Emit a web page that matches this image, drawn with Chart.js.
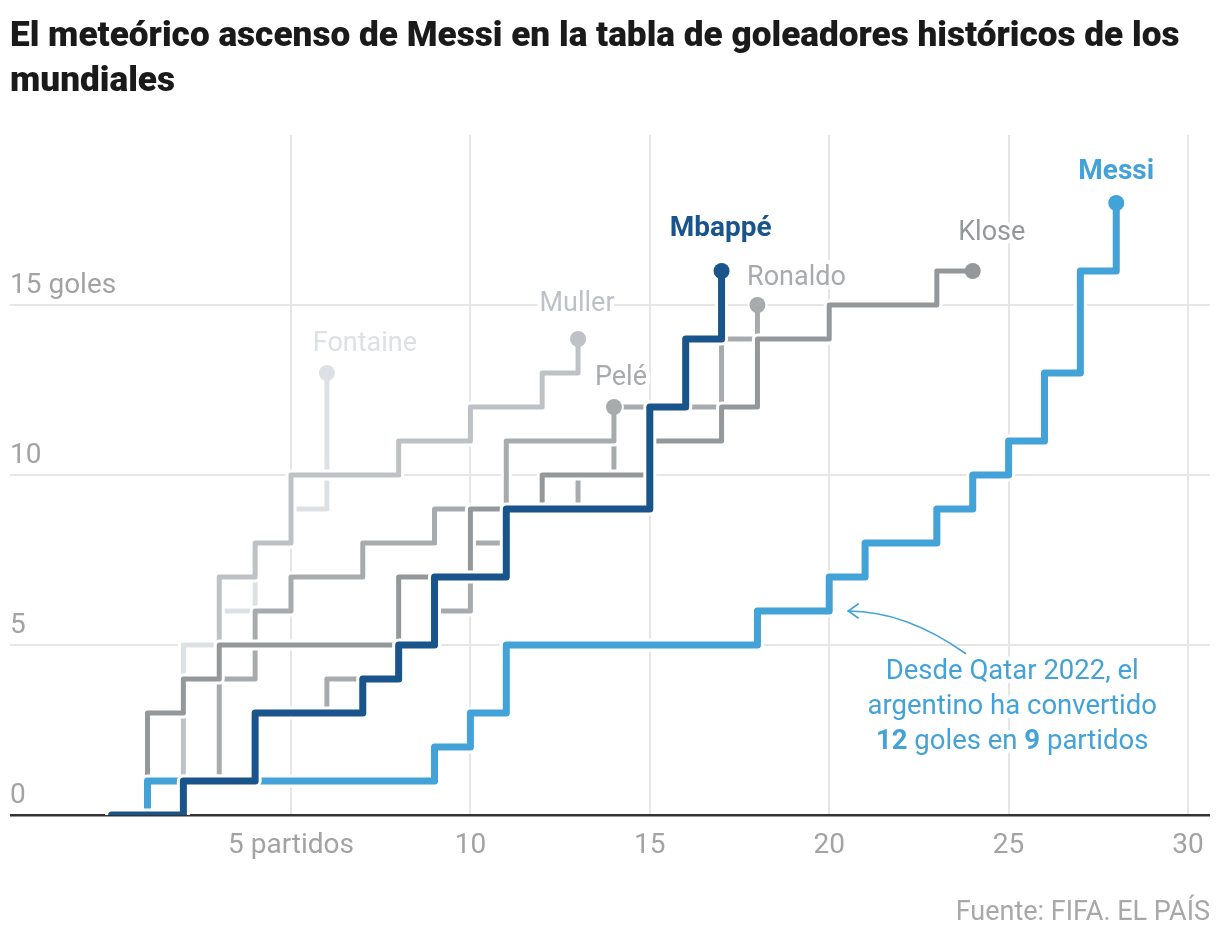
<!DOCTYPE html>
<html>
<head>
<meta charset="utf-8">
<script src="https://cdn.jsdelivr.net/npm/chart.js@4.4.1/dist/chart.umd.min.js"></script>
<style>
html,body{margin:0;padding:0;background:#fff;}
#wrap{width:1220px;height:940px;position:relative;}
canvas{display:block;}
</style>
</head>
<body>
<div id="wrap"><canvas id="c" width="1220" height="940"></canvas></div>
<script>
// ---------------- DATA (cumulative World Cup goals after each match; index = match number) ----------------
const titleLines = ['El meteórico ascenso de Messi en la tabla de goleadores históricos de los', 'mundiales'];
const sourceText = 'Fuente: FIFA. EL PAÍS';
const playerNames = ['Mbappé', 'Messi', 'Klose', 'Pelé', 'Ronaldo', 'Muller', 'Fontaine'];
const mbappeGoals   = [0,0,1,1,3,3,3,4,5,7,7,9,9,9,9,12,14,16];
const messiGoals    = [0,1,1,1,1,1,1,1,1,2,3,5,5,5,5,5,5,5,6,6,7,8,8,9,10,11,13,16,18];
const kloseGoals    = [0,3,4,5,5,5,5,5,7,7,9,9,10,10,10,11,11,12,14,14,15,15,15,16,16];
const ronaldoGoals  = [0,0,1,1,3,3,4,4,5,6,8,9,9,10,12,12,12,14,15];
const peleGoals     = [0,0,1,4,6,7,7,8,8,9,9,11,11,11,12];
const mullerGoals   = [0,1,4,7,8,10,10,10,11,11,12,12,13,14];
const fontaineGoals = [0,3,5,6,8,9,13];
const xTickValues = [5,10,15,20,25,30];
const yTickValues = [0,5,10,15];
const xFirstTickLabel = '5 partidos';
const yTopTickLabel = '15 goles';
const noteLines = ['Desde Qatar 2022, el', 'argentino ha convertido'];
const noteLast = [{t:'12', b:true},{t:' goles en ', b:false},{t:'9', b:true},{t:' partidos', b:false}];
const noteMatch = 20;   // Messi match the arrow points at
const noteGoals = 6;

const goalsByPlayer = {
  'Mbappé': mbappeGoals, 'Messi': messiGoals, 'Klose': kloseGoals, 'Ronaldo': ronaldoGoals,
  'Pelé': peleGoals, 'Muller': mullerGoals, 'Fontaine': fontaineGoals
};

// ---------------- STYLE ----------------
const FONT = 'Roboto, "Liberation Sans", sans-serif';
const LBL = 27;
const styleByPlayer = {
  'Mbappé':   {color:'#19548b', width:7, bold:true,  dx:-1, dy:-42},
  'Messi':    {color:'#43a2d7', width:7, bold:true,  dx:0,  dy:-31},
  'Klose':    {color:'#95989b', width:5, bold:false, dx:19, dy:-38},
  'Ronaldo':  {color:'#a8abae', width:5, bold:false, dx:39, dy:-27},
  'Pelé':     {color:'#a8abae', width:5, bold:false, dx:7,  dy:-29},
  'Muller':   {color:'#bec2c6', width:5, bold:false, dx:-1, dy:-35},
  'Fontaine': {color:'#dde1e5', width:5, bold:false, dx:38, dy:-29}
};
const GRID = '#e6e6e6';
const TICK = '#a3a3a3';

const datasets = [];
playerNames.forEach(name => {
  const st = styleByPlayer[name];
  const pts = goalsByPlayer[name].map((g, i) => ({x: i, y: g}));
  const last = pts.length - 1;
  datasets.push({
    label: name, data: pts, stepped: true, tension: 0, fill: false,
    borderColor: st.color, backgroundColor: st.color, borderWidth: st.width,
    borderJoinStyle: 'round', borderCapStyle: 'round',
    pointRadius: c => c.dataIndex === last ? 8 : 0,
    pointHoverRadius: 0, pointBorderWidth: 0, pointBackgroundColor: st.color
  });
  datasets.push({
    label: name + ' halo', data: pts, stepped: true, tension: 0, fill: false,
    borderColor: '#ffffff', backgroundColor: '#ffffff', borderWidth: st.width + 6,
    borderJoinStyle: 'round', borderCapStyle: 'round',
    pointRadius: c => c.dataIndex === last ? 10 : 0,
    pointHoverRadius: 0, pointBorderWidth: 0, pointBackgroundColor: '#ffffff'
  });
});

function haloText(ctx, text, x, y, halo) {
  ctx.save();
  ctx.lineJoin = 'round';
  ctx.strokeStyle = '#fff';
  ctx.lineWidth = halo;
  ctx.strokeText(text, x, y);
  ctx.restore();
  ctx.fillText(text, x, y);
}

const decor = {
  id: 'decor',
  afterDatasetsDraw(chart) {
    const {ctx, scales: {x, y}} = chart;
    ctx.save();
    ctx.textAlign = 'center';
    ctx.textBaseline = 'middle';
    // player labels
    playerNames.forEach(name => {
      const st = styleByPlayer[name];
      const g = goalsByPlayer[name];
      const last = g.length - 1;
      const px = x.getPixelForValue(last) + st.dx;
      const py = y.getPixelForValue(g[last]) + st.dy;
      ctx.font = (st.bold ? 'bold ' : '') + (st.bold ? LBL + 1 : LBL) + 'px ' + FONT;
      ctx.fillStyle = st.color;
      haloText(ctx, name, px, py, 8);
    });
    // annotation
    const blue = styleByPlayer['Messi'].color;
    const cx = x.getPixelForValue(25.1);
    const y0 = y.getPixelForValue(4.2);
    const lh = 35;
    const NF = '27.5px ' + FONT;
    ctx.font = NF;
    ctx.fillStyle = blue;
    noteLines.forEach((t, i) => haloText(ctx, t, cx, y0 + i * lh, 8));
    let total = 0;
    noteLast.forEach(p => { ctx.font = (p.b ? 'bold ' : '') + NF; p.w = ctx.measureText(p.t).width; total += p.w; });
    let sx = cx - total / 2;
    ctx.textAlign = 'left';
    noteLast.forEach(p => {
      ctx.font = (p.b ? 'bold ' : '') + NF;
      haloText(ctx, p.t, sx, y0 + 2 * lh, 8);
      sx += p.w;
    });
    // arrow
    const ex = x.getPixelForValue(noteMatch) + 19, ey = y.getPixelForValue(noteGoals);
    const bx = x.getPixelForValue(23.8), by = y.getPixelForValue(4.75);
    ctx.strokeStyle = blue;
    ctx.lineWidth = 1.6;
    ctx.lineCap = 'round';
    ctx.beginPath();
    ctx.moveTo(bx, by);
    ctx.quadraticCurveTo(bx - 60, ey, ex, ey);
    ctx.stroke();
    ctx.beginPath();
    ctx.moveTo(ex + 10, ey - 7);
    ctx.lineTo(ex, ey);
    ctx.lineTo(ex + 10, ey + 7);
    ctx.stroke();
    ctx.restore();
  },
  afterDraw(chart) {
    const {ctx, width} = chart;
    ctx.save();
    ctx.fillStyle = '#1a1a1a';
    // fit first title line to the reference width
    ctx.font = '900 100px ' + FONT;
    const w100 = ctx.measureText(titleLines[0]).width;
    const size = Math.min(36, 100 * 1170 / w100);
    ctx.font = '900 ' + size.toFixed(2) + 'px ' + FONT;
    ctx.textAlign = 'left';
    ctx.textBaseline = 'alphabetic';
    ctx.fillText(titleLines[0], 10, 46);
    ctx.fillText(titleLines[1], 10, 91);
    ctx.fillStyle = '#a8a8a8';
    ctx.font = '27px ' + FONT;
    ctx.textAlign = 'right';
    ctx.fillText(sourceText, width - 10, 920);
    ctx.restore();
  }
};

new Chart(document.getElementById('c'), {
  type: 'line',
  data: { datasets },
  options: {
    responsive: false,
    animation: false,
    events: [],
    layout: { padding: { top: 135, left: 10, right: 10, bottom: 81 } },
    plugins: { legend: {display: false}, tooltip: {enabled: false}, title: {display: false} },
    scales: {
      x: {
        type: 'linear', min: -2.832, max: 30.613,
        afterBuildTicks: s => { s.ticks = xTickValues.map(v => ({value: v})); },
        afterFit: s => { s.height = 44; },
        border: {display: false},
        grid: { color: GRID, lineWidth: 2, drawTicks: false },
        ticks: {
          color: TICK, font: {family: FONT, size: 28}, padding: 14, maxRotation: 0,
          callback: v => v === xTickValues[0] ? xFirstTickLabel : String(v)
        }
      },
      y: {
        type: 'linear', min: 0, max: 20,
        afterBuildTicks: s => { s.ticks = yTickValues.map(v => ({value: v})); },
        afterFit: s => { s.width = 0; },
        border: {display: false},
        grid: {
          color: c => (c.tick && c.tick.value === 0) ? '#333333' : GRID,
          lineWidth: c => (c.tick && c.tick.value === 0) ? 2.5 : 2,
          drawTicks: false
        },
        ticks: {
          mirror: true, padding: 0, labelOffset: -19,
          color: TICK, font: {family: FONT, size: 28},
          callback: v => v === yTickValues[yTickValues.length - 1] ? yTopTickLabel : String(v)
        }
      }
    }
  },
  plugins: [decor]
});
</script>
</body>
</html>
